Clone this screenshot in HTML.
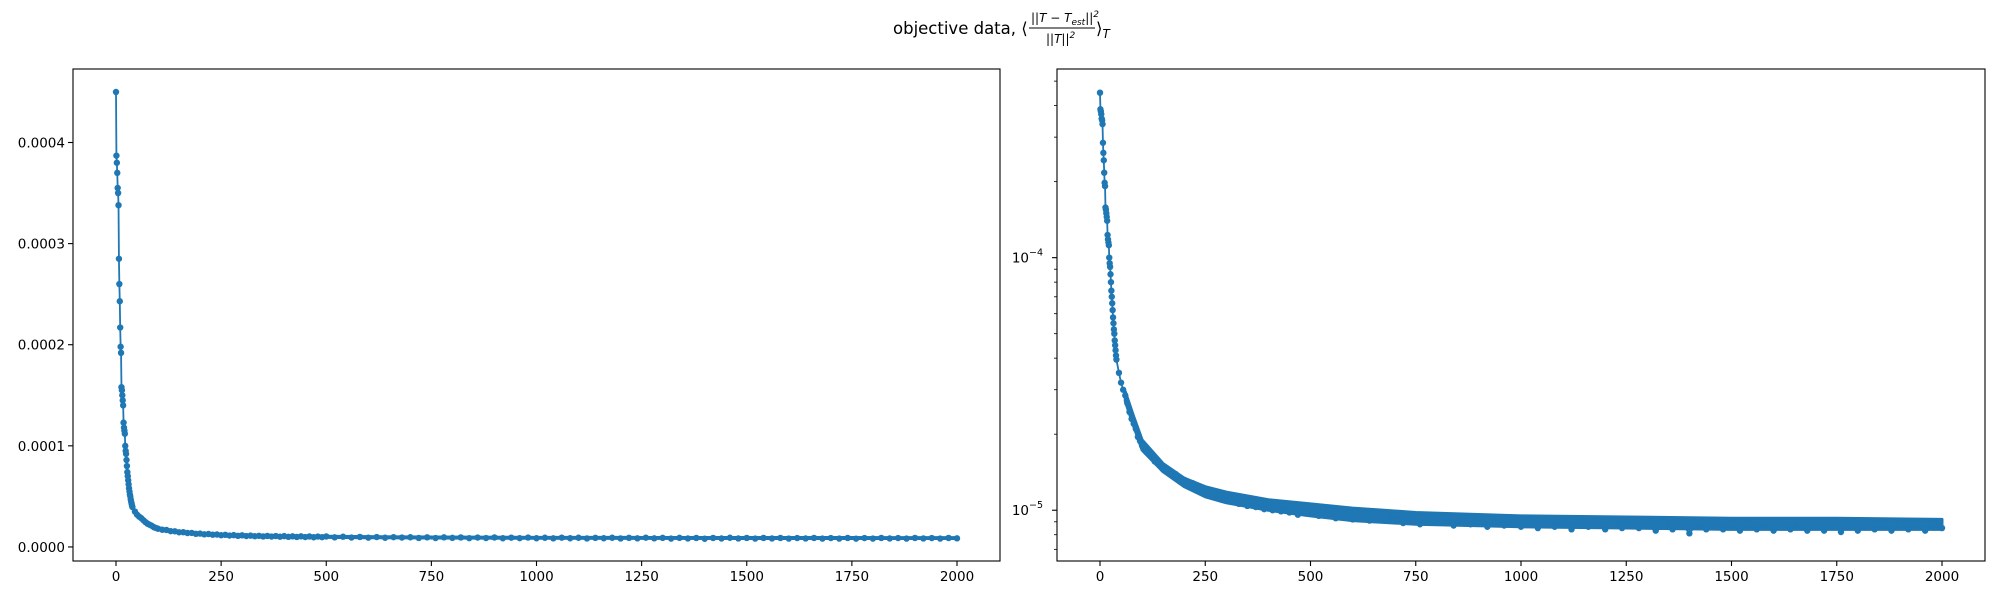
<!DOCTYPE html>
<html><head><meta charset="utf-8"><style>
html,body{margin:0;padding:0;background:#fff;}
svg{display:block;font-family:"DejaVu Sans","Liberation Sans",sans-serif;}
</style></head><body>
<svg id="fig" width="2000" height="600" viewBox="0 0 2000 600">
<g font-size="16.5" fill="#000">
<text x="893" y="34">objective data, ⟨</text>
<text x="1031" y="22" font-size="12" font-style="italic">||T − T<tspan font-size="9" dy="3">est</tspan><tspan dy="-3">||</tspan><tspan font-size="9" dy="-5">2</tspan></text>
<line x1="1029" y1="28" x2="1095" y2="28" stroke="#000" stroke-width="1"/>
<text x="1046" y="43" font-size="12" font-style="italic">||T||<tspan font-size="9" dy="-5">2</tspan></text>
<text x="1096" y="34">⟩<tspan font-style="italic" font-size="12" dy="4">T</tspan></text>
</g>
<g id="left"></g>
<g id="right"></g>
</svg>
<script>
const iters = [0,1,2,3,4,5,6,7,8,9,10,11,12,13,14,15,16,17,18,19,20,21,22,23,24,25,26,27,28,29,30,31,32,33,34,35,36,37,38,39,
45,50,55,60,65,70,75,80,85,90,95,100,
110,120,130,140,150,160,170,180,190,200,210,220,230,240,250,260,270,280,290,300,310,320,330,340,350,360,370,380,390,400,410,420,430,440,450,460,470,480,490,500,
520,540,560,580,600,620,640,660,680,700,720,740,760,780,800,820,840,860,880,900,920,940,960,980,1000,1020,1040,1060,1080,1100,1120,1140,1160,1180,1200,1220,1240,1260,1280,1300,1320,1340,1360,1380,1400,1420,1440,1460,1480,1500,1520,1540,1560,1580,1600,1620,1640,1660,1680,1700,1720,1740,1760,1780,1800,1820,1840,1860,1880,1900,1920,1940,1960,1980,2000];
// objective values in units of 1e-6
const values = [450,387,380,370,355,350,338,285,260,243,217,198,192,158,155,150,145,140,123,118,115,112,100,95,92,86,80,74,70,66,62,58,55,52,50,47,45,43,41,39.5,
35,32,30,28.5,26.5,24.5,23,22,21,19.5,18.8,18,
17.0,16.8,15.6,15.5,14.5,14.6,13.8,13.9,13.0,13.2,12.5,12.8,12.1,12.3,11.6,12.0,11.3,11.7,11.0,11.5,10.8,11.2,10.6,11.0,10.4,10.9,10.3,10.8,10.1,10.7,10.0,10.5,9.9,10.5,9.8,10.4,9.6,10.3,9.7,10.4,
9.5,10.1,9.3,9.9,9.2,9.8,9.1,9.7,9.3,9.6,8.9,9.5,8.8,9.5,9.0,9.4,8.7,9.3,8.8,9.4,8.6,9.2,8.7,9.3,8.6,9.1,8.5,9.2,8.6,9.1,8.4,9.0,8.6,9.1,8.4,9.0,8.5,9.2,8.5,9.0,8.3,9.0,8.4,8.9,8.1,8.9,8.4,9.1,8.4,8.9,8.3,8.9,8.4,8.9,8.3,8.8,8.4,8.9,8.3,8.8,8.3,8.9,8.2,8.8,8.3,8.9,8.4,8.8,8.3,8.9,8.4,8.8,8.3,8.9,8.5];
// noise envelope of the dense marker band (units of 1e-6)
const bandIters = [60,80,100,150,200,250,300,400,500,600,750,1000,1250,1500,1750,2000];
const bandHi = [29.5,23.5,19,15.3,13.4,12.4,11.8,11.0,10.6,10.2,9.8,9.5,9.4,9.3,9.3,9.2];
const bandLo = [27,21.5,17.3,14.2,12.4,11.3,10.7,10.0,9.5,9.1,8.8,8.6,8.5,8.4,8.4,8.4];
const xTicks = [0,250,500,750,1000,1250,1500,1750,2000];
const yTicksLin = [0,0.0001,0.0002,0.0003,0.0004];
const yTickLinLabels = ["0.0000","0.0001","0.0002","0.0003","0.0004"];
const yTicksLogMajor = [-5,-4];
const yTicksLogMinor = [7e-6,8e-6,9e-6,2e-5,3e-5,4e-5,5e-5,6e-5,7e-5,8e-5,9e-5,2e-4,3e-4,4e-4,5e-4];

const NS='http://www.w3.org/2000/svg';
function mk(parent,tag,attrs){const e=document.createElementNS(NS,tag);for(const k in attrs)e.setAttribute(k,attrs[k]);parent.appendChild(e);return e;}
const C='#1f77b4';

function drawPanel(g,L,R,T,B,yScale,isLog){
  const xScale=v=>L+43+(v/2000)*(R-L-86);
  const fr=mk(g,'rect',{x:L,y:T,width:R-L,height:B-T,fill:'none',stroke:'#000','stroke-width':1.1});
  
  
  xTicks.forEach(t=>{
    const x=xScale(t);
    const l=mk(g,'line',{x1:x,y1:B,x2:x,y2:B+5,stroke:'#000','stroke-width':1.1});
    
    
    const tx=mk(g,'text',{x:x,y:B+20,'font-size':13.5,'text-anchor':'middle'});
    tx.textContent=String(t);
    
    
  });
  if(!isLog){
    yTicksLin.forEach((t,i)=>{
      const y=yScale(t);
      const l=mk(g,'line',{x1:L-5,y1:y,x2:L,y2:y,stroke:'#000','stroke-width':1.1});
      
      
      const tx=mk(g,'text',{x:L-8,y:y+5,'font-size':13.5,'text-anchor':'end'});
      tx.textContent=yTickLinLabels[i];
      
      
    });
  } else {
    yTicksLogMajor.forEach(p=>{
      const y=yScale(Math.pow(10,p));
      const l=mk(g,'line',{x1:L-5,y1:y,x2:L,y2:y,stroke:'#000','stroke-width':1.1});
      
      
      const tx=mk(g,'text',{x:L-28,y:y+5,'font-size':13.5,'text-anchor':'end'});
      tx.textContent='10';
      
      
      const sp=mk(g,'text',{x:L-28,y:y-2,'font-size':9.5,'text-anchor':'start'});
      sp.textContent='−'+Math.abs(p);
      
      
    });
    yTicksLogMinor.forEach(v=>{
      const y=yScale(v);
      const l=mk(g,'line',{x1:L-3,y1:y,x2:L,y2:y,stroke:'#000','stroke-width':0.8});
      
      
    });
  }
  const up=bandIters.map((it,i)=>[xScale(it),yScale(bandHi[i]*1e-6)]);
  const dn=bandIters.map((it,i)=>[xScale(it),yScale(bandLo[i]*1e-6)]).reverse();
  const bp=mk(g,'polygon',{points:up.concat(dn).map(p=>p[0].toFixed(2)+','+p[1].toFixed(2)).join(' '),fill:C,stroke:C,'stroke-width':3,'stroke-linejoin':'round'});
  
  
  const pts=iters.map((it,i)=>[xScale(it),yScale(values[i]*1e-6)]);
  const pl=mk(g,'polyline',{points:pts.map(p=>p[0].toFixed(2)+','+p[1].toFixed(2)).join(' '),fill:'none',stroke:C,'stroke-width':1.8});
  
  
  pts.forEach(p=>{
    const c=mk(g,'circle',{cx:p[0],cy:p[1],r:3.2,fill:C});
    
    
  });
}
const T=69,B=561;
const linMin=-1.39e-5, linMax=4.727e-4;
drawPanel(document.getElementById('left'),73,1000,T,B,v=>B-(v-linMin)/(linMax-linMin)*(B-T),false);
const logMin=-5.201, logMax=-3.253;
drawPanel(document.getElementById('right'),1057,1985,T,B,v=>B-(Math.log10(v)-logMin)/(logMax-logMin)*(B-T),true);
</script>
</body></html>
